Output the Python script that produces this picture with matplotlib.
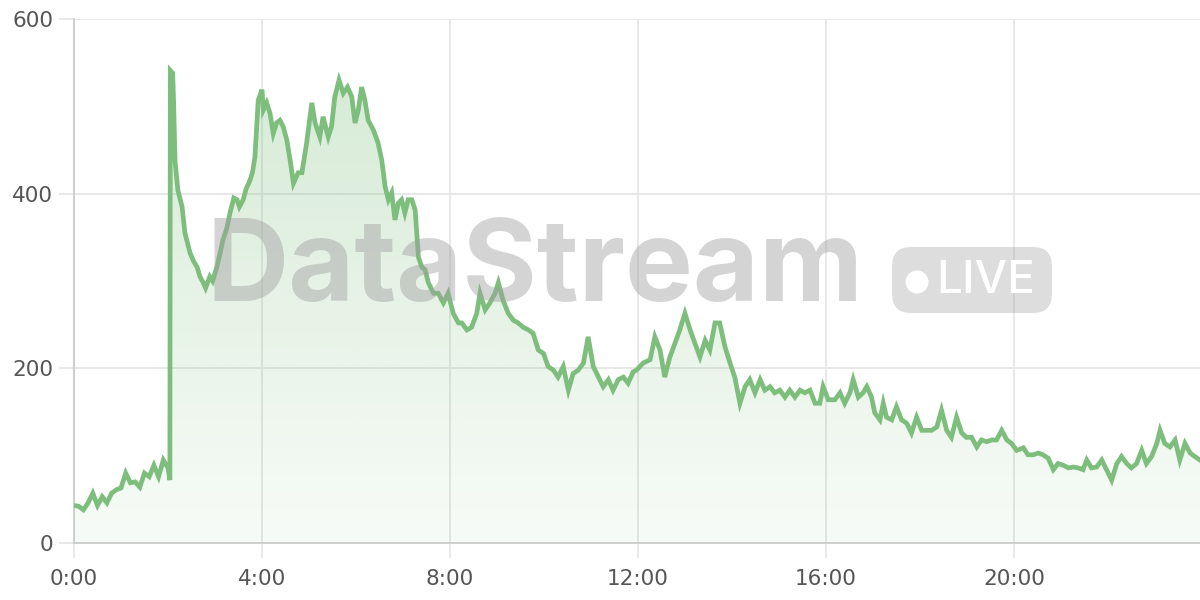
import numpy as np
import matplotlib
matplotlib.use("Agg")
import matplotlib.pyplot as plt
from matplotlib.patches import FancyBboxPatch, Circle

# Traffic over one day (hours since midnight, value)
hours_night = [0.0, 0.1, 0.2, 0.3, 0.4, 0.5, 0.6, 0.7, 0.8, 0.9, 1.0, 1.1, 1.2, 1.3, 1.4,
               1.5, 1.6, 1.7, 1.8, 1.9, 2.0, 2.04]
values_night = [43, 42, 38, 46, 57, 43, 53, 46, 57, 61, 63, 80, 69, 70, 64,
                80, 76, 89, 76, 95, 86, 72]

hours_spike = [2.05, 2.10, 2.12, 2.15, 2.21, 2.30, 2.36, 2.47, 2.55, 2.62, 2.68, 2.75, 2.80,
               2.89, 2.95, 3.04, 3.10, 3.17, 3.25, 3.32, 3.40, 3.47, 3.52, 3.60, 3.66, 3.75,
               3.80, 3.85, 3.92, 4.00]
values_spike = [541, 538, 504, 438, 404, 385, 355, 332, 322, 316, 305, 298, 292,
                305, 300, 316, 330, 347, 360, 378, 395, 393, 385, 393, 405, 416,
                425, 442, 507, 519]

hours_morning = [4.03, 4.10, 4.17, 4.24, 4.31, 4.38, 4.45, 4.53, 4.60, 4.67, 4.77, 4.85, 4.95,
                 5.06, 5.13, 5.23, 5.30, 5.41, 5.48, 5.55, 5.64, 5.73, 5.82, 5.91, 5.98, 6.05,
                 6.12, 6.19, 6.26, 6.37, 6.47, 6.55, 6.62, 6.69, 6.76, 6.83, 6.90, 6.97, 7.04,
                 7.11, 7.19, 7.26, 7.33, 7.40, 7.47, 7.54, 7.65, 7.75, 7.86, 7.96, 8.07, 8.18]
values_morning = [496, 504, 492, 469, 481, 484, 477, 461, 438, 412, 424, 424, 458,
                  504, 481, 465, 488, 465, 477, 511, 530, 515, 522, 511, 481, 496,
                  522, 507, 484, 473, 458, 438, 408, 393, 401, 370, 389, 393, 378,
                  393, 393, 381, 327, 316, 313, 298, 286, 286, 275, 286, 263, 252]

hours_midday = [8.25, 8.36, 8.46, 8.57, 8.64, 8.75, 8.85, 8.96, 9.03, 9.13, 9.24, 9.35, 9.45,
                9.56, 9.67, 9.77, 9.88, 9.99, 10.09, 10.20, 10.30, 10.41, 10.52, 10.62, 10.73,
                10.84, 10.94, 11.05, 11.16, 11.26, 11.37, 11.47, 11.58, 11.69, 11.79, 11.90]
values_midday = [252, 244, 247, 263, 286, 267, 275, 286, 298, 278, 263, 255, 252,
                 247, 244, 240, 221, 217, 202, 198, 190, 202, 175, 194, 198,
                 206, 236, 202, 190, 179, 187, 175, 187, 190, 183, 196]

hours_afternoon = [11.97, 12.11, 12.26, 12.36, 12.47, 12.57, 12.68, 12.79, 12.89, 13.00, 13.11,
                   13.21, 13.32, 13.43, 13.53, 13.64, 13.74, 13.85, 13.96, 14.06, 14.17, 14.28,
                   14.38, 14.49, 14.60, 14.70, 14.81, 14.91, 15.02, 15.13, 15.23, 15.34, 15.45,
                   15.55, 15.66, 15.77, 15.87]
values_afternoon = [198, 206, 210, 236, 221, 190, 213, 229, 244, 263, 244,
                    229, 213, 232, 221, 252, 252, 225, 206, 190, 160, 179,
                    187, 172, 187, 175, 179, 172, 175, 167, 175, 167, 175,
                    172, 175, 160, 160]

hours_evening = [15.94, 16.05, 16.19, 16.30, 16.40, 16.51, 16.58, 16.69, 16.79, 16.87, 16.97,
                 17.04, 17.15, 17.22, 17.29, 17.40, 17.50, 17.61, 17.72, 17.82, 17.93, 18.04,
                 18.14, 18.25, 18.36, 18.46, 18.57, 18.67, 18.78, 18.89, 18.99, 19.10, 19.21,
                 19.31, 19.42, 19.53, 19.63, 19.74, 19.85, 19.95]
values_evening = [179, 164, 164, 172, 160, 172, 187, 167, 172, 179, 167,
                  149, 141, 160, 144, 141, 156, 141, 137, 126, 144, 129,
                  129, 129, 133, 152, 129, 121, 144, 126, 121, 121, 110,
                  118, 116, 118, 118, 129, 118, 114]

hours_late = [20.06, 20.20, 20.30, 20.41, 20.52, 20.62, 20.73, 20.84, 20.94, 21.05, 21.16,
              21.26, 21.37, 21.47, 21.55, 21.65, 21.76, 21.87, 21.97, 22.08, 22.19, 22.29,
              22.40, 22.50, 22.61, 22.72, 22.82, 22.93, 23.04, 23.11, 23.21, 23.32, 23.43,
              23.53, 23.64, 23.75, 23.85, 23.96]
values_late = [106, 109, 101, 101, 103, 101, 97, 84, 91, 89, 86,
               87, 86, 84, 95, 86, 87, 95, 84, 72, 91, 99,
               91, 86, 91, 106, 91, 99, 114, 129, 114, 110, 118,
               95, 114, 103, 99, 95]

x_ticks = [0, 4, 8, 12, 16, 20]
x_tick_labels = ["0:00", "4:00", "8:00", "12:00", "16:00", "20:00"]
y_ticks = [0, 200, 400, 600]


def plot_chart():
    hours = np.array(hours_night + hours_spike + hours_morning + hours_midday
                     + hours_afternoon + hours_evening + hours_late)
    values = np.array(values_night + values_spike + values_morning + values_midday
                      + values_afternoon + values_evening + values_late, dtype=float)

    line_color = "#7dbe7d"
    grid_color = "#e6e6e6"
    label_color = "#555555"

    fig = plt.figure(figsize=(12, 6), dpi=100)
    ax = fig.add_axes([74 / 1200, 57 / 600, 1126 / 1200, 524 / 600])

    x_max = 23.96
    y_max = 600

    # gradient fill under the line, clipped to the area
    poly = ax.fill_between(hours, 0, values, facecolor="none", edgecolor="none")
    grad = np.zeros((256, 2, 4))
    rgb = matplotlib.colors.to_rgb(line_color)
    grad[..., 0], grad[..., 1], grad[..., 2] = rgb
    grad[..., 3] = np.linspace(0.34, 0.06, 256)[:, None]
    img = ax.imshow(grad, extent=[0, x_max, 0, y_max], aspect="auto",
                    origin="upper", zorder=1)
    img.set_clip_path(poly.get_paths()[0], transform=ax.transData)

    ax.plot(hours, values, color=line_color, linewidth=3.4,
            solid_joinstyle="miter", zorder=4)

    # watermark (positions in inches from the lower-left corner of the figure)
    inch = fig.dpi_scale_trans
    fig.text(535 / 1200, 1 - 271 / 600, "DataStream", ha="center", va="center",
             fontsize=82, fontweight="bold", family=["Inter", "DejaVu Sans"],
             color="#a0a0a0", alpha=0.45, zorder=3)
    badge = FancyBboxPatch((8.92, 2.87), 1.60, 0.66,
                           boxstyle="round,pad=0,rounding_size=0.19",
                           transform=inch, facecolor="#a0a0a0",
                           alpha=0.35, edgecolor="none", zorder=3)
    fig.patches.append(badge)
    fig.patches.append(Circle((9.17, 3.18), 0.115, transform=inch,
                              facecolor="white", edgecolor="none", zorder=4))
    fig.text(9.855, 3.19, "LIVE", ha="center", va="center", transform=inch,
             fontsize=33, fontweight="medium", family=["Inter", "DejaVu Sans"],
             color="white", zorder=4)

    ax.set_xlim(0, x_max)
    ax.set_ylim(0, y_max)
    ax.set_xticks(x_ticks)
    ax.set_xticklabels(x_tick_labels)
    ax.set_yticks(y_ticks)
    ax.grid(True, color=grid_color, linewidth=1.3, zorder=0)
    ax.set_axisbelow(True)

    for side in ["top", "right"]:
        ax.spines[side].set_visible(False)
    for side in ["left", "bottom"]:
        ax.spines[side].set_color("#cccccc")
        ax.spines[side].set_linewidth(1.3)

    ax.tick_params(axis="both", colors=grid_color, width=1.3, length=11,
                   labelcolor=label_color, labelsize=15.5)
    ax.tick_params(axis="x", pad=8)
    ax.tick_params(axis="y", pad=4)

    fig.savefig("out.png", dpi=100)


if __name__ == "__main__":
    plot_chart()
